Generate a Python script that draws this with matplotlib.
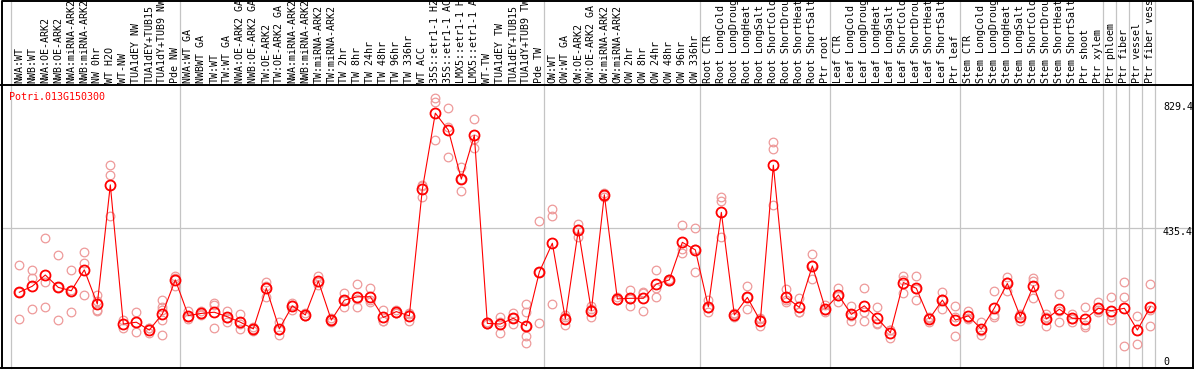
import numpy as np
import matplotlib.pyplot as plt
from matplotlib.lines import Line2D

# sample labels, as shown (long names are cut at the top of the picture)
labels = [
    "NWA:WT", "NWB:WT", "NWA:OE-ARK2", "NWB:OE-ARK2", "NWA:miRNA-ARK2", "NWB:miRNA-ARK2",
    "NW 0hr", "WT H2O", "WT-NW", "TUA1dEY NW", "TUA1dEY+TUB15", "TUA1dY+TUB9 NW", "Pde NW",
    "NWA:WT GA", "NWBWT GA", "TW:WT", "TW:WT GA", "NWA:OE-ARK2 GA", "NWB:OE-ARK2 GA",
    "TW:OE-ARK2", "TW:OE-ARK2 GA", "NWA:miRNA-ARK2", "NWB:miRNA-ARK2", "TW:miRNA-ARK2",
    "TW:miRNA-ARK2", "TW 2hr", "TW 8hr", "TW 24hr", "TW 48hr", "TW 96hr", "TW 336hr",
    "WT ACC", "35S::etr1-1 H2", "35S::etr1-1 AC", "LMX5::etr1-1 H", "LMX5::etr1-1 A",
    "WT-TW", "TUA1dEY TW", "TUA1dEY+TUB15", "TUA1dY+TUB9 TW", "Pde TW",
    "OW:WT", "OW:WT GA", "OW:OE-ARK2", "OW:OE-ARK2 GA", "OW:miRNA-ARK2", "OW:miRNA-ARK2",
    "OW 2hr", "OW 8hr", "OW 24hr", "OW 48hr", "OW 96hr", "OW 336hr",
    "Root CTR", "Root LongCold", "Root LongDroug", "Root LongHeat", "Root LongSalt",
    "Root ShortCold", "Root ShortDrou", "Root ShortHeat", "Root ShortSalt", "Ptr root",
    "Leaf CTR", "Leaf LongCold", "Leaf LongDroug", "Leaf LongHeat", "Leaf LongSalt",
    "Leaf ShortCold", "Leaf ShortDrou", "Leaf ShortHeat", "Leaf ShortSalt", "Ptr leaf",
    "Stem CTR", "Stem LongCold", "Stem LongDroug", "Stem LongHeat", "Stem LongSalt",
    "Stem ShortCold", "Stem ShortDrou", "Stem ShortHeat", "Stem ShortSalt", "Ptr shoot",
    "Ptr xylem", "Ptr phloem", "Ptr fiber", "Ptr vessel", "Ptr fiber vess",
]

# first sample index of each experiment group
group_starts = [0, 13, 41, 53, 63, 73, 84, 85, 86, 87, 88]

means = [
    224, 244, 281, 240, 229, 298, 185, 579, 119, 125, 99, 152, 265,
    147, 154, 158, 143, 125, 103, 237, 103, 179, 149, 261, 132, 198, 209, 209,
    141, 160, 146, 564, 816, 760, 598, 743, 121, 119, 138, 113, 291,
    386, 136, 430, 163, 546, 202, 204, 204, 251, 265, 389, 364,
    176, 488, 149, 207, 129, 644, 207, 174, 311, 169,
    215, 151, 179, 138, 90, 256, 237, 136, 198, 132,
    146, 102, 172, 253, 143, 245, 136, 168, 138, 136, 171,
    163, 171, 99, 176,
]

replicates = [
    [314, 224, 135], [298, 270, 169], [402, 259, 174], [347, 242, 132],
    [298, 232, 158], [356, 322, 215], [215, 196, 165, 163], [644, 611, 477],
    [132, 106], [158, 92], [105, 88, 105], [198, 176, 165, 132, 83],
    [278, 271, 245],
    [163, 141, 136], [163, 152, 148], [189, 182, 105], [163, 140, 127],
    [152, 120, 102], [110, 101, 97], [259, 243, 209], [127, 98, 83],
    [188, 183, 165], [156, 145, 145], [279, 257, 248], [138, 132, 127],
    [221, 199, 176], [251, 202, 174], [237, 198, 193], [165, 130, 128],
    [165, 157, 156], [154, 152, 130], [579, 574, 540], [867, 854, 727],
    [832, 771, 672], [639, 597, 559], [796, 730, 700], [127, 119, 118],
    [143, 126, 88], [156, 138, 119], [185, 158, 113, 79, 57], [460, 292, 121],
    [499, 477, 185], [149, 142, 116], [450, 432, 408], [179, 169, 141],
    [553, 544, 540], [207, 199, 198], [231, 201, 180], [226, 221, 163],
    [298, 237, 209], [267, 265, 262], [446, 366, 353], [435, 366, 290],
    [198, 173, 158], [540, 527, 406], [154, 151, 141], [245, 209, 169],
    [138, 135, 113], [720, 697, 512], [234, 197, 191], [204, 160, 159],
    [349, 315, 268], [182, 164, 160],
    [239, 213, 193], [180, 144, 130], [239, 160, 129], [174, 122, 118],
    [100, 99, 72], [278, 266, 223], [278, 235, 198], [141, 139, 127],
    [224, 203, 169], [179, 141, 79],
    [163, 138, 136], [125, 97, 83], [228, 149, 141], [275, 257, 228],
    [151, 149, 130], [270, 262, 204], [152, 142, 112], [217, 161, 125],
    [152, 135, 127], [176, 116, 108], [191, 164, 158],
    [207, 150, 132], [257, 209, 46], [146, 53], [251, 165, 112],
]

gene = "Potri.013G150300"
ytick_values = [829.4, 435.4, 0]
ytick_text = ["829.4", "435.4", "0"]

W, H = 1194, 370
mono = "DejaVu Sans Mono"
fs = 7.2
red = "#ff0000"
pink = "#ee9a9a"
grid = "#c4c4c4"

fig = plt.figure(figsize=(W / 100, H / 100), dpi=100)
ax = fig.add_axes([1.5 / W, 2 / H, 1191.5 / W, 283 / H])
ax.set_xlim(-1.37, 90.28)
ax.set_ylim(-26.4, 909)
ax.set_xticks([])
ax.set_yticks([])
for s in ax.spines.values():
    s.set_linewidth(1.4)
    s.set_color("black")

x = np.arange(len(means))

# group separators run up through the label strip
top_frac = 368 / 283
for g in group_starts:
    ax.axvline(g - 0.66, 0, top_frac, color=grid, lw=0.9, clip_on=False, zorder=1)
ax.axhline(435.4, color=grid, lw=0.9, zorder=1)

# replicates
rx = [i for i, r in enumerate(replicates) for _ in r]
ry = [v for r in replicates for v in r]
ax.plot(rx, ry, "o", ms=6.2, mfc="none", mec=pink, mew=0.9, zorder=2)

# means
ax.plot(x, means, "-", color=red, lw=0.8, zorder=3)
ax.plot(x, means, "o", ms=7.2, mfc="none", mec=red, mew=1.3, zorder=4)

# sample labels above the plot
for i, lab in enumerate(labels):
    ax.annotate(lab, xy=(i, 1.0), xycoords=("data", "axes fraction"),
                xytext=(0, 2), textcoords="offset pixels",
                rotation=90, ha="center", va="bottom",
                fontsize=fs, family=mono, annotation_clip=False)

ax.annotate(gene, xy=(0, 1), xycoords="axes fraction", xytext=(7.5, -7),
            textcoords="offset pixels", ha="left", va="top",
            fontsize=fs, family=mono, color=red)

# value labels on the right
offs = [2, -3.5, -2]
for v, t, o in zip(ytick_values, ytick_text, offs):
    ax.annotate(t, xy=(0.9748, v), xycoords=("axes fraction", "data"),
                xytext=(0, o), textcoords="offset pixels",
                ha="left", va="center", fontsize=fs, family=mono)

# outer frame around the label strip
fx0, fx1 = 1.5 / W, 1193 / W
fig.add_artist(Line2D([fx0, fx0, fx1, fx1], [(H - 85) / H, 1 - 0.6 / H, 1 - 0.6 / H, (H - 85) / H],
                      color="black", lw=1.4))

fig.savefig("out.png", dpi=100)
